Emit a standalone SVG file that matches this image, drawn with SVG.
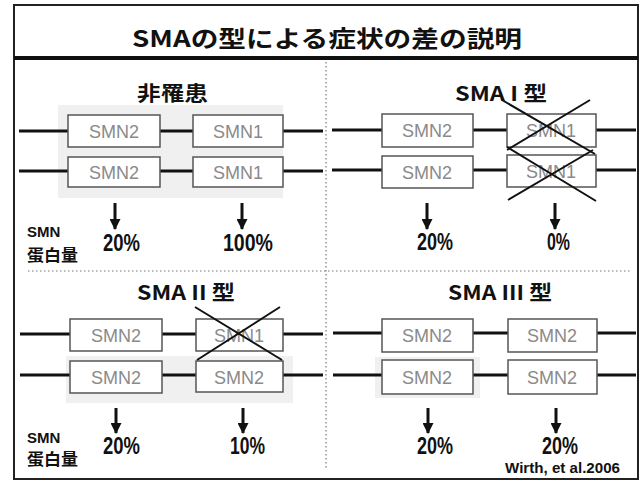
<svg xmlns="http://www.w3.org/2000/svg" width="640" height="481" viewBox="0 0 640 481">
<defs>
<style>
.cjk{font-family:"Noto Sans CJK JP","Noto Sans",sans-serif;font-weight:700;fill:#111}
.lat{font-family:"Liberation Sans",Arial,sans-serif;font-weight:700;fill:#111}
.box{fill:#fff;stroke:#555;stroke-width:1.5}
.gene{font-family:"Liberation Sans",Arial,sans-serif;font-size:18px;fill:#8a8a8a;text-anchor:middle}
.chr{stroke:#111;stroke-width:3;fill:none}
.cross{stroke:#111;stroke-width:2;fill:none}
.arrow{stroke:#111;stroke-width:3;fill:none;marker-end:url(#ah)}
.div{stroke:#777;stroke-width:1.2;stroke-dasharray:1.5 2.5;fill:none}
.bg{fill:#f0f0f0}
</style>
<marker id="ah" markerUnits="userSpaceOnUse" markerWidth="11" markerHeight="11" refX="10" refY="5.5" orient="auto">
<path d="M0,0 L11,5.5 L0,11 z" fill="#111"/>
</marker>
</defs>
<rect x="0" y="0" width="640" height="481" fill="#fff"/>
<g id="frame">
<rect x="14" y="5" width="624" height="474" fill="none" stroke="#222" stroke-width="2"/>
<line x1="14" y1="58" x2="638" y2="58" stroke="#111" stroke-width="4"/>
<line class="div" x1="326" y1="62" x2="326" y2="470"/>
<line class="div" x1="28" y1="271" x2="630" y2="271"/>
</g>
<g id="title">
<text class="cjk" x="132" y="47" font-size="23" textLength="390" lengthAdjust="spacingAndGlyphs">SMAの型による症状の差の説明</text>
</g>
<g id="backdrops">
<rect class="bg" x="58" y="105" width="225" height="93"/>
<rect class="bg" x="66" y="356" width="227" height="47"/>
<rect class="bg" x="375" y="357" width="105" height="41"/>
</g>
<g id="connectors">
<line class="chr" x1="19" y1="131" x2="323" y2="131"/>
<line class="chr" x1="19" y1="171" x2="323" y2="171"/>
<line class="chr" x1="332" y1="130" x2="636" y2="130"/>
<line class="chr" x1="332" y1="170" x2="636" y2="170"/>
<line class="chr" x1="20" y1="334" x2="323" y2="334"/>
<line class="chr" x1="20" y1="375" x2="323" y2="375"/>
<line class="chr" x1="333" y1="333" x2="636" y2="333"/>
<line class="chr" x1="333" y1="375" x2="636" y2="375"/>
<path class="arrow" d="M115,203 V229"/>
<path class="arrow" d="M242,203 V229"/>
<path class="arrow" d="M427,203 V229"/>
<path class="arrow" d="M555,203 V229"/>
<path class="arrow" d="M116,408 V433"/>
<path class="arrow" d="M243,408 V433"/>
<path class="arrow" d="M428,408 V433"/>
<path class="arrow" d="M556,408 V433"/>
</g>
<g id="panel-unaffected">
<text class="cjk" x="137" y="101" font-size="20" textLength="71" lengthAdjust="spacingAndGlyphs">非罹患</text>
<g id="n-tl-a1"><rect class="box" x="68" y="115" width="92" height="32"/><text class="gene" x="114" y="138">SMN2</text></g>
<g id="n-tl-b1"><rect class="box" x="193" y="115" width="90" height="32"/><text class="gene" x="238" y="138">SMN1</text></g>
<g id="n-tl-a2"><rect class="box" x="68" y="157" width="92" height="30"/><text class="gene" x="114" y="179">SMN2</text></g>
<g id="n-tl-b2"><rect class="box" x="193" y="157" width="90" height="30"/><text class="gene" x="238" y="179">SMN1</text></g>
<text class="lat" x="27" y="237" font-size="15">SMN</text>
<text class="cjk" x="27" y="261" font-size="16" textLength="51" lengthAdjust="spacingAndGlyphs">蛋白量</text>
<text class="lat" x="103" y="251" font-size="23" textLength="37" lengthAdjust="spacingAndGlyphs">20%</text>
<text class="lat" x="223" y="251" font-size="23" textLength="50" lengthAdjust="spacingAndGlyphs">100%</text>
</g>
<g id="panel-sma1">
<text class="cjk" x="455" y="101" font-size="20" textLength="92" lengthAdjust="spacingAndGlyphs">SMA I 型</text>
<g id="n-tr-a1"><rect class="box" x="382" y="114" width="91" height="33"/><text class="gene" x="427" y="137">SMN2</text></g>
<g id="n-tr-b1"><rect class="box" x="507" y="114" width="89" height="33"/><text class="gene" x="551" y="137">SMN1</text></g>
<g id="n-tr-a2"><rect class="box" x="382" y="156" width="91" height="32"/><text class="gene" x="427" y="179">SMN2</text></g>
<g id="n-tr-b2"><rect class="box" x="507" y="155" width="89" height="32"/><text class="gene" x="551" y="178">SMN1</text></g>
<line class="cross" x1="502" y1="100" x2="595" y2="154"/>
<line class="cross" x1="590" y1="100" x2="507" y2="150"/>
<line class="cross" x1="507" y1="147" x2="596" y2="201"/>
<line class="cross" x1="593" y1="150" x2="508" y2="200"/>
<text class="lat" x="417" y="250" font-size="23" textLength="36" lengthAdjust="spacingAndGlyphs">20%</text>
<text class="lat" x="547" y="250" font-size="23" textLength="23" lengthAdjust="spacingAndGlyphs">0%</text>
</g>
<g id="panel-sma2">
<text class="cjk" x="137" y="300" font-size="20" textLength="98" lengthAdjust="spacingAndGlyphs">SMA II 型</text>
<g id="n-bl-a1"><rect class="box" x="70" y="319" width="92" height="32"/><text class="gene" x="116" y="342">SMN2</text></g>
<g id="n-bl-b1"><rect class="box" x="196" y="319" width="87" height="32"/><text class="gene" x="239" y="342">SMN1</text></g>
<g id="n-bl-a2"><rect class="box" x="70" y="361" width="92" height="32"/><text class="gene" x="116" y="384">SMN2</text></g>
<g id="n-bl-b2"><rect class="box" x="196" y="361" width="87" height="31"/><text class="gene" x="239" y="384">SMN2</text></g>
<line class="cross" x1="195" y1="307" x2="282" y2="360"/>
<line class="cross" x1="280" y1="307" x2="197" y2="360"/>
<text class="lat" x="27" y="443" font-size="15">SMN</text>
<text class="cjk" x="27" y="465" font-size="16" textLength="51" lengthAdjust="spacingAndGlyphs">蛋白量</text>
<text class="lat" x="103" y="454" font-size="23" textLength="37" lengthAdjust="spacingAndGlyphs">20%</text>
<text class="lat" x="230" y="454" font-size="23" textLength="35" lengthAdjust="spacingAndGlyphs">10%</text>
</g>
<g id="panel-sma3">
<text class="cjk" x="448" y="300" font-size="20" textLength="104" lengthAdjust="spacingAndGlyphs">SMA III 型</text>
<g id="n-br-a1"><rect class="box" x="382" y="319" width="91" height="33"/><text class="gene" x="427" y="342">SMN2</text></g>
<g id="n-br-b1"><rect class="box" x="508" y="319" width="89" height="33"/><text class="gene" x="552" y="342">SMN2</text></g>
<g id="n-br-a2"><rect class="box" x="382" y="360" width="91" height="34"/><text class="gene" x="427" y="384">SMN2</text></g>
<g id="n-br-b2"><rect class="box" x="508" y="360" width="89" height="34"/><text class="gene" x="552" y="384">SMN2</text></g>
<text class="lat" x="417" y="454" font-size="23" textLength="36" lengthAdjust="spacingAndGlyphs">20%</text>
<text class="lat" x="542" y="454" font-size="23" textLength="36" lengthAdjust="spacingAndGlyphs">20%</text>
<text class="lat" x="505" y="473" font-size="14" textLength="115" lengthAdjust="spacingAndGlyphs">Wirth, et al.2006</text>
</g>
</svg>
